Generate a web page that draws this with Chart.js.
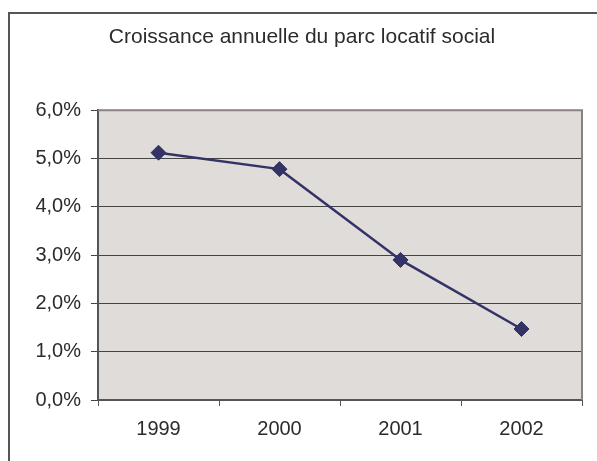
<!DOCTYPE html>
<html>
<head>
<meta charset="utf-8">
<script src="https://cdn.jsdelivr.net/npm/chart.js@4/dist/chart.umd.min.js"></script>
<style>
  html, body { margin: 0; padding: 0; background: #fff; overflow: hidden; }
  #frame { position: absolute; left: 8px; top: 12px; width: 700px; height: 600px; border-left: 2px solid #555; border-top: 2px solid #555; }
  #c { position: absolute; left: 0; top: 0; }
</style>
</head>
<body>
<div id="frame"></div>
<canvas id="c" width="597" height="461"></canvas>
<script>
// data
const years = ['1999', '2000', '2001', '2002']
const growth = [5.12, 4.78, 2.90, 1.47]
const chartTitle = 'Croissance annuelle du parc locatif social'
const yMin = 0, yMax = 6, yStep = 1

const FONT = 'Liberation Sans, Arial, sans-serif'
const fmtPct = v => Number(v).toFixed(1).replace('.', ',') + '%'

// grey plot background + top/right frame of the plot area
const plotArea = {
  id: 'plotArea',
  beforeDraw(chart) {
    const { ctx, chartArea: a } = chart
    ctx.save(); ctx.fillStyle = '#e0dcda'; ctx.fillRect(a.left, a.top, a.right - a.left, a.bottom - a.top); ctx.restore()
  },
  beforeDatasetsDraw(chart) {
    const { ctx, chartArea: a } = chart
    ctx.save(); ctx.strokeStyle = '#8b8180'; ctx.lineWidth = 2
    ctx.beginPath(); ctx.moveTo(a.left, a.top); ctx.lineTo(a.right, a.top); ctx.lineTo(a.right, a.bottom); ctx.stroke()
    ctx.restore()
  }
}

new Chart(document.getElementById('c').getContext('2d'), {
  type: 'line',
  data: {
    labels: years,
    datasets: [{
      data: growth, borderColor: '#333366', backgroundColor: '#333366', borderWidth: 2.5,
      pointStyle: 'rectRot', pointRadius: 7.5, pointBorderWidth: 1, tension: 0
    }]
  },
  options: {
    responsive: false, animation: false,
    // left padding keeps the title centred where the reference has it
    layout: { padding: { left: 22, right: 15, top: 0, bottom: 0 } },
    scales: {
      x: {
        offset: true,
        grid: { offset: true, drawOnChartArea: false, drawTicks: true, tickLength: 6, color: '#555' },
        border: { color: '#555', width: 2 },
        ticks: { color: '#2b2b2b', font: { family: FONT, size: 20 }, padding: 11 },
        afterFit: s => { s.height = 61 }
      },
      y: {
        min: yMin, max: yMax,
        grid: { color: '#444', lineWidth: 1, tickLength: 7 },
        border: { color: '#555', width: 2 },
        ticks: { stepSize: yStep, color: '#2b2b2b', font: { family: FONT, size: 20 }, padding: 10, callback: v => fmtPct(v) },
        afterFit: s => { s.width = 76 }
      }
    },
    plugins: {
      legend: { display: false },
      tooltip: { enabled: false },
      title: { display: true, text: chartTitle, color: '#2b2b2b', font: { family: FONT, size: 21, weight: 'normal' }, padding: { top: 25, bottom: 60 } }
    }
  },
  plugins: [plotArea]
})
</script>
</body>
</html>
